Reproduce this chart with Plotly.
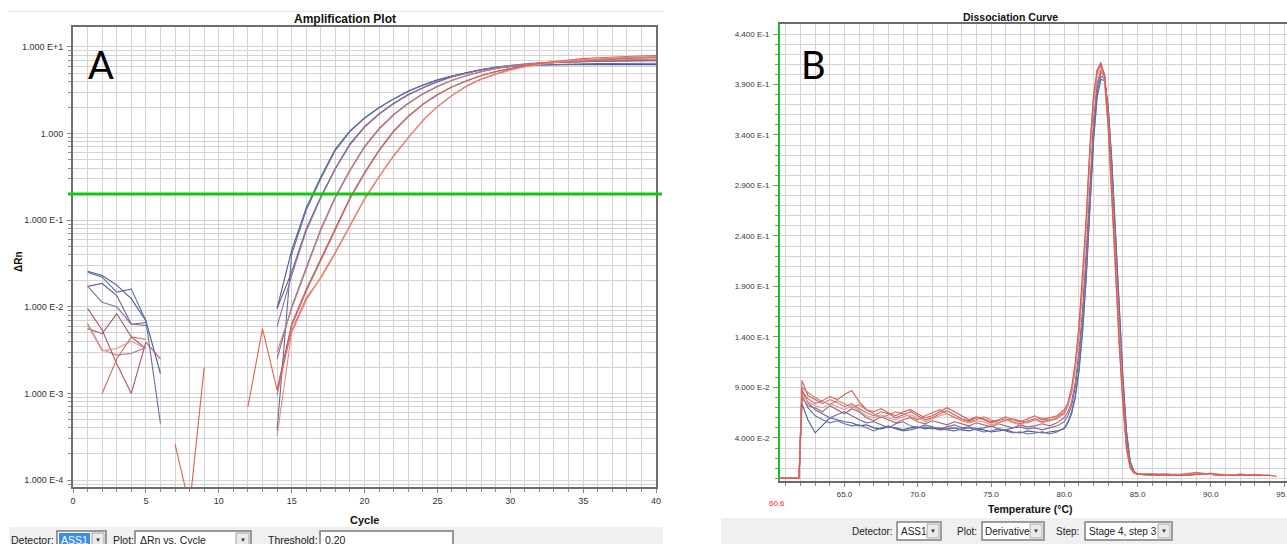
import plotly.graph_objects as go

N = None
W, H = 1287, 544

# ---------------- Panel A : Amplification Plot (delta Rn vs cycle, log) -------------
cycles = list(range(1, 41))
amp_threshold = 0.20
baseline_marks = [3, 15]
baseline_mark_y = 7.5e-5

amp_blue_1 = [0.0257, 0.0230, 0.0178, 0.0124, 0.0069, 0.0017, N, N, N, N, N, N, N,
              0.00955, 0.0447, 0.138, 0.316, 0.661, 1.072, 1.514, 1.995, 2.512, 3.090,
              3.631, 4.169, 4.624, 5.070, 5.495, 5.754, 5.957, 6.095, 6.166, 6.237,
              6.24, 6.25, 6.25, 6.25, 6.25, 6.25, 6.25]
amp_blue_2 = [0.0250, 0.0220, 0.0148, 0.0160, 0.0069, 0.00045, N, N, N, N, N, N, N,
              0.00037, 0.040, 0.130, 0.300, 0.640, 1.050, 1.500, 1.980, 2.500, 3.050,
              3.600, 4.120, 4.600, 5.050, 5.450, 5.750, 5.980, 6.120, 6.220, 6.300,
              6.350, 6.400, 6.420, 6.440, 6.450, 6.460, 6.470]
amp_purple_1 = [0.0172, 0.0186, 0.0135, 0.0063, 0.0066, N, N, N, N, N, N, N, N,
                0.00955, 0.0251, 0.0794, 0.186, 0.398, 0.759, 1.202, 1.698, 2.239, 2.818,
                3.388, 3.981, 4.519, 5.012, 5.433, 5.821, 6.095, 6.310, 6.457, 6.607,
                6.700, 6.760, 6.800, 6.840, 6.870, 6.900, 6.918]
amp_purple_2 = [0.0172, 0.0113, 0.0100, 0.0063, 0.0061, N, N, N, N, N, N, N, N,
                0.0059, 0.023, 0.075, 0.180, 0.390, 0.740, 1.180, 1.670, 2.210, 2.780,
                3.350, 3.950, 4.500, 5.000, 5.450, 5.850, 6.150, 6.380, 6.550, 6.680,
                6.780, 6.850, 6.900, 6.950, 6.980, 7.000, 7.020]
amp_mauve_1 = [0.0056, 0.0049, 0.0083, 0.0045, 0.0033, N, N, N, N, N, N, N, N,
               0.00251, 0.0100, 0.0282, 0.0794, 0.186, 0.380, 0.708, 1.148, 1.660, 2.239,
               2.884, 3.508, 4.121, 4.677, 5.188, 5.623, 5.957, 6.237, 6.457, 6.607,
               6.700, 6.800, 6.880, 6.950, 7.000, 7.050, 7.079]
amp_mauve_2 = [0.0064, 0.0032, 0.00277, 0.0029, 0.0034, N, N, N, N, N, N, N, N,
               0.0030, 0.0095, 0.027, 0.076, 0.180, 0.370, 0.690, 1.120, 1.630, 2.200,
               2.850, 3.480, 4.100, 4.660, 5.170, 5.620, 5.980, 6.280, 6.500, 6.680,
               6.800, 6.900, 6.980, 7.050, 7.100, 7.140, 7.180]
amp_red_1 = [0.0096, 0.0054, 0.0022, 0.0010, 0.0039, 0.0025, N, N, N, N, N, N, N,
             0.0011, 0.00631, 0.0158, 0.0355, 0.0832, 0.182, 0.355, 0.646, 1.072, 1.585,
             2.188, 2.818, 3.467, 4.074, 4.677, 5.188, 5.623, 6.026, 6.310, 6.607,
             6.839, 7.000, 7.150, 7.280, 7.380, 7.450, 7.500]
amp_red_2 = [N, 0.0010, 0.0025, 0.0045, 0.0042, N, N, N, N, N, N, N, N,
             0.00095, 0.0060, 0.015, 0.034, 0.080, 0.175, 0.345, 0.630, 1.050, 1.560,
             2.160, 2.790, 3.440, 4.050, 4.660, 5.180, 5.620, 6.030, 6.330, 6.630,
             6.860, 7.050, 7.200, 7.330, 7.430, 7.520, 7.580]
amp_red_3 = [N, N, N, N, N, N, 0.00026, 0.00005, 0.0020, N, N, 0.00070, 0.0056,
             0.0011, 0.00525, 0.0126, 0.0214, 0.0417, 0.0851, 0.174, 0.316, 0.550, 0.891,
             1.413, 2.042, 2.754, 3.548, 4.266, 4.898, 5.495, 6.026, 6.457, 6.761,
             7.079, 7.328, 7.499, 7.674, 7.762, 7.852, 7.943]
amp_red_4 = [0.0062, 0.0031, 0.0033, 0.0040, 0.0033, N, N, N, N, N, N, N, N,
             0.00032, 0.0050, 0.0118, 0.022, 0.043, 0.088, 0.178, 0.320, 0.560, 0.900,
             1.420, 2.050, 2.740, 3.500, 4.200, 4.820, 5.380, 5.880, 6.300, 6.620,
             6.900, 7.120, 7.300, 7.450, 7.580, 7.680, 7.750]

amp_series = [
    (amp_blue_1, "#4a5b9b"), (amp_blue_2, "#5f6fa6"),
    (amp_purple_1, "#6d5b8e"), (amp_purple_2, "#8c6f9c"),
    (amp_mauve_1, "#9b5b78"), (amp_mauve_2, "#b9838f"),
    (amp_red_1, "#b3545a"), (amp_red_2, "#cc6b68"),
    (amp_red_3, "#e2604f"), (amp_red_4, "#ea8a7c"),
]

amp_xtick_vals = [0, 5, 10, 15, 20, 25, 30, 35, 40]
amp_xtick_text = ["0", "5", "10", "15", "20", "25", "30", "35", "40"]
amp_ytick_vals = [1e-4, 1e-3, 1e-2, 1e-1, 1, 10]
amp_ytick_text = ["1.000 E-4", "1.000 E-3", "1.000 E-2", "1.000 E-1", "1.000", "1.000 E+1"]

# ---------------- Panel B : Dissociation Curve (derivative) -------------------------
temps = [60.6, 61.9, 62.1, 62.5, 63.0, 63.5, 64.0, 64.5, 65.0, 65.5, 66.0, 66.5, 67.0,
         67.5, 68.0, 68.5, 69.0, 69.5, 70.0, 70.5, 71.0, 71.5, 72.0, 72.5, 73.0, 73.5,
         74.0, 74.5, 75.0, 75.5, 76.0, 76.5, 77.0, 77.5, 78.0, 78.5, 79.0, 79.5, 80.0,
         80.25, 80.5, 80.75, 81.0, 81.25, 81.5, 81.75, 82.0, 82.25, 82.5, 82.75, 83.0,
         83.25, 83.5, 83.75, 84.0, 84.25, 84.5, 84.75, 85.0, 86.0, 87.0, 88.0, 89.0,
         90.0, 91.0, 92.0, 93.0, 93.5, 94.0, 94.5]

dis_blue_1 = [0.0, 0.0,
              0.074, 0.058, 0.045, 0.052, 0.060, 0.058, 0.056, 0.055, 0.052, 0.053,
              0.050, 0.049, 0.051, 0.050, 0.048, 0.050, 0.051, 0.049, 0.050, 0.048,
              0.049, 0.050, 0.048, 0.047, 0.049, 0.048, 0.046, 0.047, 0.048, 0.046,
              0.045, 0.047, 0.046, 0.045, 0.046, 0.047, 0.049,
              0.055, 0.064, 0.080, 0.105, 0.144, 0.198, 0.268, 0.334, 0.378, 0.395,
              0.394, 0.368, 0.314, 0.240, 0.168, 0.102, 0.047, 0.017, 0.007, 0.004,
              0.004, 0.004, 0.003, 0.004, 0.004, 0.003, 0.004, 0.003, 0.003, N, N]
dis_blue_2 = [0.0, 0.0,
              0.082, 0.070, 0.062, 0.058, 0.055, 0.057, 0.054, 0.052, 0.053, 0.050,
              0.047, 0.050, 0.052, 0.049, 0.047, 0.048, 0.050, 0.051, 0.049, 0.050,
              0.048, 0.047, 0.049, 0.050, 0.048, 0.046, 0.047, 0.049, 0.047, 0.045,
              0.046, 0.044, 0.045, 0.046, 0.044, 0.046, 0.050,
              0.056, 0.066, 0.082, 0.108, 0.148, 0.202, 0.272, 0.338, 0.382, 0.398,
              0.396, 0.366, 0.310, 0.235, 0.162, 0.098, 0.044, 0.016, 0.007, 0.004,
              0.004, 0.003, 0.003, 0.005, 0.004, 0.003, 0.003, 0.003, 0.003, 0.003, N]
dis_purple = [0.0, 0.0,
              0.088, 0.075, 0.068, 0.064, 0.060, 0.063, 0.066, 0.062, 0.058, 0.055,
              0.056, 0.053, 0.050, 0.054, 0.056, 0.052, 0.050, 0.053, 0.051, 0.049,
              0.051, 0.053, 0.050, 0.051, 0.049, 0.050, 0.052, 0.049, 0.048, 0.050,
              0.051, 0.049, 0.050, 0.048, 0.050, 0.052, 0.056,
              0.062, 0.072, 0.090, 0.118, 0.160, 0.215, 0.285, 0.348, 0.388, 0.402,
              0.398, 0.365, 0.305, 0.228, 0.155, 0.092, 0.040, 0.015, 0.007, 0.004,
              0.003, 0.004, 0.004, 0.004, 0.005, 0.003, 0.004, 0.003, N, N, N]
dis_mauve = [0.0, 0.0,
             0.080, 0.072, 0.070, 0.066, 0.072, 0.068, 0.064, 0.069, 0.066, 0.060,
             0.057, 0.061, 0.058, 0.055, 0.058, 0.060, 0.056, 0.054, 0.057, 0.055,
             0.053, 0.056, 0.054, 0.052, 0.055, 0.053, 0.051, 0.054, 0.052, 0.050,
             0.053, 0.051, 0.052, 0.054, 0.052, 0.055, 0.060,
             0.066, 0.076, 0.095, 0.125, 0.168, 0.225, 0.295, 0.355, 0.392, 0.404,
             0.398, 0.362, 0.300, 0.222, 0.150, 0.088, 0.037, 0.014, 0.006, 0.004,
             0.004, 0.004, 0.003, 0.004, 0.004, 0.003, 0.003, 0.003, 0.003, N, N]
dis_red_1 = [0.0, 0.0,
             0.097, 0.082, 0.078, 0.074, 0.078, 0.075, 0.071, 0.074, 0.069, 0.065,
             0.062, 0.066, 0.064, 0.060, 0.063, 0.066, 0.062, 0.058, 0.060, 0.064,
             0.067, 0.063, 0.059, 0.057, 0.060, 0.058, 0.055, 0.057, 0.059, 0.056,
             0.054, 0.057, 0.059, 0.056, 0.058, 0.060, 0.064,
             0.072, 0.085, 0.108, 0.142, 0.190, 0.250, 0.320, 0.372, 0.402, 0.410,
             0.400, 0.356, 0.288, 0.208, 0.140, 0.080, 0.032, 0.012, 0.006, 0.004,
             0.004, 0.004, 0.003, 0.005, 0.004, 0.003, 0.004, 0.003, 0.003, N, N]
dis_red_2 = [0.0, 0.0,
             0.090, 0.085, 0.080, 0.076, 0.073, 0.077, 0.074, 0.070, 0.073, 0.068,
             0.064, 0.060, 0.063, 0.066, 0.064, 0.061, 0.058, 0.062, 0.065, 0.068,
             0.064, 0.060, 0.058, 0.056, 0.058, 0.061, 0.058, 0.055, 0.057, 0.059,
             0.057, 0.055, 0.058, 0.060, 0.057, 0.059, 0.066,
             0.074, 0.088, 0.112, 0.148, 0.196, 0.256, 0.326, 0.378, 0.404, 0.408,
             0.392, 0.345, 0.275, 0.196, 0.130, 0.072, 0.028, 0.010, 0.005, 0.004,
             0.003, 0.003, 0.004, 0.006, 0.004, 0.003, 0.003, 0.004, 0.003, 0.003, N]
dis_red_3 = [0.0, 0.0,
             0.086, 0.079, 0.074, 0.077, 0.081, 0.078, 0.083, 0.087, 0.076, 0.068,
             0.066, 0.069, 0.065, 0.062, 0.066, 0.068, 0.064, 0.060, 0.062, 0.066,
             0.070, 0.066, 0.062, 0.058, 0.061, 0.059, 0.056, 0.058, 0.061, 0.058,
             0.056, 0.059, 0.062, 0.058, 0.060, 0.062, 0.068,
             0.075, 0.090, 0.115, 0.150, 0.200, 0.260, 0.330, 0.380, 0.405, 0.412,
             0.398, 0.350, 0.280, 0.200, 0.135, 0.075, 0.030, 0.011, 0.006, 0.004,
             0.004, 0.003, 0.003, 0.004, 0.005, 0.003, 0.003, 0.003, 0.003, 0.003, 0.002]
dis_red_4 = [0.0, 0.0,
             0.084, 0.076, 0.072, 0.070, 0.074, 0.071, 0.068, 0.072, 0.067, 0.062,
             0.060, 0.063, 0.060, 0.058, 0.061, 0.063, 0.060, 0.056, 0.059, 0.062,
             0.064, 0.061, 0.057, 0.055, 0.057, 0.056, 0.053, 0.055, 0.058, 0.055,
             0.053, 0.056, 0.058, 0.055, 0.057, 0.061, 0.066,
             0.073, 0.086, 0.110, 0.145, 0.193, 0.252, 0.322, 0.374, 0.400, 0.405,
             0.394, 0.352, 0.284, 0.204, 0.138, 0.078, 0.031, 0.012, 0.006, 0.004,
             0.004, 0.003, 0.003, 0.005, 0.004, 0.004, 0.003, 0.003, N, N, N]

dis_series = [
    (dis_blue_1, "#4a5b9b"), (dis_blue_2, "#6272aa"), (dis_purple, "#7d6a9c"),
    (dis_mauve, "#9c6a88"), (dis_red_1, "#c26868"), (dis_red_2, "#d9706c"),
    (dis_red_4, "#e99284"), (dis_red_3, "#e15a4e"),
]

dis_xtick_vals = [65, 70, 75, 80, 85, 90, 95]
dis_xtick_text = ["65.0", "70.0", "75.0", "80.0", "85.0", "90.0", "95.0"]
dis_ytick_vals = [0.04, 0.09, 0.14, 0.19, 0.24, 0.29, 0.34, 0.39, 0.44]
dis_ytick_text = ["4.000 E-2", "9.000 E-2", "1.400 E-1", "1.900 E-1", "2.400 E-1",
                  "2.900 E-1", "3.400 E-1", "3.900 E-1", "4.400 E-1"]
dis_start_label = "60.6"

# ---------------- figure -------------------------------------------------------------
FONT = "Liberation Sans, Arial, sans-serif"
GRID = "#d3d3d3"
fig = go.Figure()

for vals, col in amp_series:
    fig.add_trace(go.Scatter(x=cycles, y=vals, mode="lines", xaxis="x", yaxis="y",
                             line=dict(color=col, width=1.1), showlegend=False,
                             hoverinfo="skip"))
fig.add_trace(go.Scatter(x=baseline_marks, y=[baseline_mark_y] * len(baseline_marks),
                         mode="markers", xaxis="x", yaxis="y", cliponaxis=False,
                         marker=dict(symbol=["triangle-se", "triangle-sw"], size=7,
                                     color="#ff1a1a"),
                         showlegend=False, hoverinfo="skip"))

for vals, col in dis_series:
    fig.add_trace(go.Scatter(x=temps, y=vals, mode="lines", xaxis="x2", yaxis="y2",
                             line=dict(color=col, width=1.1), showlegend=False,
                             hoverinfo="skip"))

amp_minor_y = [m * 10.0 ** e for e in range(-5, 1) for m in range(2, 10)]
dis_minor_y = [i / 100 for i in range(0, 46)]


def py(p):
    return 1 - p / H


fig.update_layout(
    width=W, height=H, autosize=False, margin=dict(l=0, r=0, t=0, b=0, pad=0),
    paper_bgcolor="white", plot_bgcolor="white", showlegend=False,
    font=dict(family=FONT, color="#333"),
    xaxis=dict(domain=[73 / W, 656 / W], range=[0, 40], anchor="y", automargin=False,
               tickmode="array", tickvals=amp_xtick_vals, ticktext=amp_xtick_text,
               ticks="outside", ticklen=4, tickcolor="#8a8a8a",
               tickfont=dict(size=9, color="#333"), ticklabeloverflow="allow",
               showgrid=True, gridcolor=GRID, gridwidth=1,
               minor=dict(tickvals=list(range(0, 41)), showgrid=True, gridcolor=GRID,
                          ticks="outside", ticklen=3, tickcolor="#8a8a8a"),
               showline=True, linecolor="#6e6e6e", linewidth=2, mirror=True,
               zeroline=False, fixedrange=True),
    yaxis=dict(type="log", domain=[py(487), py(27)], range=[-4.08, 1.23], anchor="x",
               automargin=False, ticklabeloverflow="allow",
               tickmode="array", tickvals=amp_ytick_vals, ticktext=amp_ytick_text,
               ticks="outside", ticklen=4, tickcolor="#8a8a8a", ticklabelstandoff=2,
               tickfont=dict(size=9, color="#333"),
               showgrid=True, gridcolor=GRID, gridwidth=1,
               minor=dict(tickvals=amp_minor_y, showgrid=True, gridcolor=GRID,
                          ticks="outside", ticklen=3, tickcolor="#8a8a8a"),
               showline=True, linecolor="#6e6e6e", linewidth=2, mirror=True,
               zeroline=False, fixedrange=True),
    xaxis2=dict(domain=[780 / W, 1.0], range=[60.6, 95.2], anchor="y2", automargin=False,
                tickmode="array", tickvals=dis_xtick_vals, ticktext=dis_xtick_text,
                ticks="outside", ticklen=4, tickcolor="#8a8a8a",
                tickfont=dict(size=8, color="#333"), ticklabeloverflow="allow",
                showgrid=True, gridcolor=GRID, gridwidth=1,
                minor=dict(tickvals=list(range(61, 96)), showgrid=True, gridcolor=GRID,
                           ticks="outside", ticklen=3, tickcolor="#8a8a8a"),
                showline=True, linecolor="#6a6a6a", linewidth=2, mirror=True,
                zeroline=False, fixedrange=True),
    yaxis2=dict(domain=[py(481), py(24)], range=[-0.0026, 0.4499], anchor="x2",
                automargin=False, ticklabeloverflow="allow",
                tickmode="array", tickvals=dis_ytick_vals, ticktext=dis_ytick_text,
                ticks="outside", ticklen=5, tickcolor="#8a8a8a", ticklabelstandoff=2,
                tickfont=dict(size=8, color="#333"),
                showgrid=True, gridcolor=GRID, gridwidth=1,
                minor=dict(tickvals=dis_minor_y, showgrid=True, gridcolor=GRID,
                           ticks="outside", ticklen=3, tickcolor="#8a8a8a"),
                showline=True, linecolor="#1fbf1f", linewidth=2, mirror=False,
                zeroline=False, fixedrange=True),
)

annotations = []
shapes = []


def text(x, y, s, size=10, color="#222", bold=False, xanchor="center",
         family=FONT, angle=0):
    annotations.append(dict(
        x=x / W, y=1 - y / H, xref="paper", yref="paper",
        text=f"<b>{s}</b>" if bold else s, showarrow=False,
        font=dict(size=size, color=color, family=family),
        xanchor=xanchor, yanchor="middle", textangle=angle, borderpad=0))


def rect(x0, y0, x1, y1, fill, line=None, lw=1.0):
    shapes.append(dict(
        type="rect", xref="paper", yref="paper", x0=x0 / W, x1=x1 / W,
        y0=1 - y1 / H, y1=1 - y0 / H, fillcolor=fill, layer="above",
        line=dict(color=line if line else fill, width=lw if line else 0)))


# threshold line (panel A)
shapes.append(dict(type="line", xref="paper", yref="y", x0=68 / W, x1=662 / W,
                   y0=amp_threshold, y1=amp_threshold, layer="above",
                   line=dict(color="#11c811", width=3)))
# faint page rule above panel A
shapes.append(dict(type="line", xref="paper", yref="paper", x0=8 / W, x1=663 / W,
                   y0=py(11.5), y1=py(11.5), line=dict(color="#e4e4e4", width=1)))

# titles & labels
text(345, 19, "Amplification Plot", size=12, color="#111", bold=True)
text(1010, 17, "Dissociation Curve", size=10.5, color="#111", bold=True)
text(364, 520, "Cycle", size=11, color="#111", bold=True)
text(18, 262, "ΔRn", size=10, color="#111", bold=True, angle=-90)
text(1030, 509, "Temperature (°C)", size=10.5, color="#111", bold=True)
text(777, 503, dis_start_label, size=8, color="#ff2020")
text(101, 64, "A", size=38, color="#000", family="Lato, Open Sans, sans-serif")
text(813, 64, "B", size=38, color="#000", family="Lato, Open Sans, sans-serif")

# ---- bottom control strip, panel A
rect(9, 527, 663, 545, "#f0f0f0")
text(55, 540, "Detector:", size=10.5, color="#222", xanchor="right")
rect(57, 531, 106, 550, "#ffffff", "#7a7a7a", 1.5)
rect(59, 533, 90, 550, "#3a8ee6")
text(74, 540, "ASS1", size=10.5, color="#ffffff")
rect(92, 533, 104, 550, "#ebebeb", "#a0a0a0", 1)
text(98, 540, "▼", size=6, color="#333")
text(123, 540, "Plot:", size=10.5, color="#222")
rect(135, 531, 251, 550, "#ffffff", "#7a7a7a", 1.5)
text(139, 540, "ΔRn vs. Cycle", size=10.5, color="#222", xanchor="left")
rect(236, 533, 249, 550, "#ebebeb", "#a0a0a0", 1)
text(242.5, 540, "▼", size=6, color="#333")
text(293, 540, "Threshold:", size=10.5, color="#222")
rect(320, 531, 453, 550, "#ffffff", "#7a7a7a", 1.5)
text(324, 540, "0.20", size=10.5, color="#222", xanchor="left")

# ---- bottom control strip, panel B
rect(721, 518, 1287, 545, "#f0f0f0")
text(894, 531, "Detector:", size=10, color="#222", xanchor="right")
rect(897, 522, 941, 540, "#ffffff", "#808080", 1.5)
text(900, 531, "ASS1", size=10, color="#222", xanchor="left")
rect(927, 524, 939, 538, "#ebebeb", "#a8a8a8", 1)
text(933, 531, "▼", size=6, color="#333")
text(978, 531, "Plot:", size=10, color="#222", xanchor="right")
rect(982, 522, 1044, 540, "#ffffff", "#808080", 1.5)
text(984, 531, "Derivative", size=10, color="#222", xanchor="left")
rect(1030, 524, 1042, 538, "#ebebeb", "#a8a8a8", 1)
text(1036, 531, "▼", size=6, color="#333")
text(1080, 531, "Step:", size=10, color="#222", xanchor="right")
rect(1085, 522, 1172, 540, "#ffffff", "#808080", 1.5)
text(1088, 531, "Stage 4, step 3", size=10, color="#222", xanchor="left")
rect(1158, 524, 1170, 538, "#ebebeb", "#a8a8a8", 1)
text(1164, 531, "▼", size=6, color="#333")

fig.update_layout(annotations=annotations, shapes=shapes)
fig.write_html(
    "out.html",
    config={"displayModeBar": False},
    post_script="document.body.style.margin='0px';"
                "document.body.style.overflow='hidden';",
)
